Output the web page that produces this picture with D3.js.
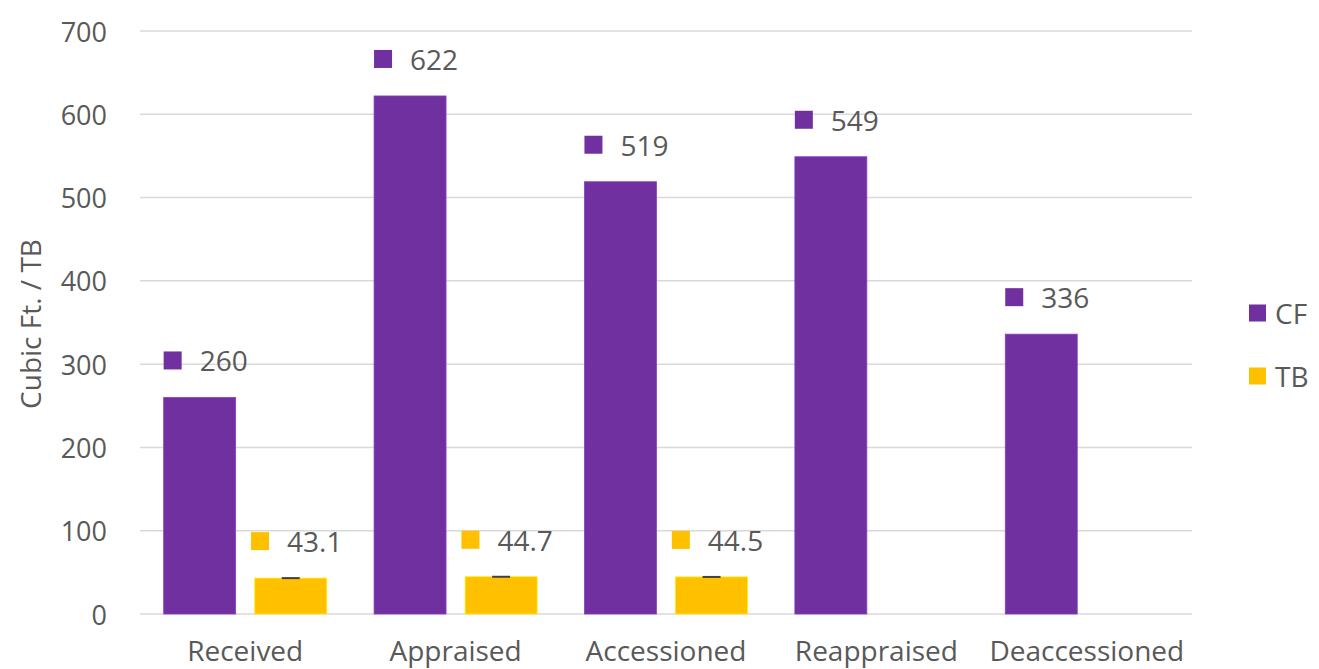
<!DOCTYPE html>
<html>
<head>
<meta charset="utf-8">
<script src="https://cdn.jsdelivr.net/npm/d3@7"></script>
<style>
    html, body { margin: 0; padding: 0; background: #fff; }
    svg { display: block; }
</style>
</head>
<body>
<div id="chart"></div>
<script>
// Volumes by processing stage
const categories = ["Received", "Appraised", "Accessioned", "Reappraised", "Deaccessioned"];
const seriesNames = ["CF", "TB"];
const cfValues = [260, 622, 519, 549, 336];
const tbValues = [43.1, 44.7, 44.5, null, null];
const yTicks = [0, 100, 200, 300, 400, 500, 600, 700];

const colors = { CF: "#7030A0", TB: "#FFC000" };
const textColor = "#595959";
const font = "'Open Sans', 'Noto Sans', sans-serif";

const W = 1319, H = 669;
const plot = { left: 140, right: 1192, top: 31, bottom: 614 };

const svg = d3.select("#chart")
    .append("svg")
    .attr("width", W)
    .attr("height", H)
    .style("font-family", font);

const x = d3.scaleBand()
    .domain(categories)
    .range([plot.left, plot.right])
    .padding(0);

const xs = d3.scaleBand()
    .domain(seriesNames)
    .range([0, x.bandwidth()])
    .paddingInner(0.21)
    .paddingOuter(0.26);

const y = d3.scaleLinear()
    .domain([0, 700])
    .range([plot.bottom, plot.top]);

// gridlines
svg.append("g")
    .selectAll("line")
    .data(yTicks)
    .join("line")
    .attr("x1", plot.left)
    .attr("x2", plot.right)
    .attr("y1", d => y(d))
    .attr("y2", d => y(d))
    .attr("stroke", "#D9D9D9")
    .attr("stroke-width", 1.5);

// y tick labels
svg.append("g")
    .selectAll("text")
    .data(yTicks)
    .join("text")
    .attr("x", 107)
    .attr("y", d => y(d))
    .attr("text-anchor", "end")
    .attr("dominant-baseline", "central")
    .attr("font-size", "27px")
    .attr("fill", textColor)
    .text(d => d);

// y axis title
svg.append("text")
    .attr("transform", "translate(41,324) rotate(-90)")
    .attr("text-anchor", "middle")
    .attr("font-size", "28px")
    .attr("fill", textColor)
    .text("Cubic Ft. / TB");

// category labels (bottom edge clips descenders, as in the source)
svg.append("g")
    .selectAll("text")
    .data(categories)
    .join("text")
    .attr("x", d => x(d) + x.bandwidth() / 2)
    .attr("y", 661)
    .attr("text-anchor", "middle")
    .attr("font-size", "28px")
    .attr("fill", textColor)
    .text(d => d);

const bars = [];
categories.forEach((c, i) => {
    if (cfValues[i] != null) bars.push({ cat: c, series: "CF", value: cfValues[i] });
    if (tbValues[i] != null) bars.push({ cat: c, series: "TB", value: tbValues[i] });
});

// bars
svg.append("g")
    .selectAll("rect")
    .data(bars)
    .join("rect")
    .attr("x", d => x(d.cat) + xs(d.series))
    .attr("width", xs.bandwidth())
    .attr("y", d => y(d.value))
    .attr("height", d => y(0) - y(d.value))
    .attr("fill", d => colors[d.series])
    .attr("stroke", d => d3.color(colors[d.series]).brighter(0.6))
    .attr("stroke-width", 0.8);

// zero-width error caps on TB bars
svg.append("g")
    .selectAll("line")
    .data(bars.filter(d => d.series === "TB"))
    .join("line")
    .attr("x1", d => x(d.cat) + xs(d.series) + xs.bandwidth() / 2 - 9)
    .attr("x2", d => x(d.cat) + xs(d.series) + xs.bandwidth() / 2 + 9)
    .attr("y1", d => y(d.value))
    .attr("y2", d => y(d.value))
    .attr("stroke", "#404040")
    .attr("stroke-width", 2);

// data labels with legend key
const sq = 18, gap = 18;
const labels = svg.append("g")
    .selectAll("g")
    .data(bars)
    .join("g");

labels.each(function(d) {
    const g = d3.select(this);
    const t = g.append("text")
        .attr("font-size", "28px")
        .attr("fill", textColor)
        .attr("dominant-baseline", "central")
        .text(d.value);
    const tw = t.node().getComputedTextLength();
    const total = sq + gap + tw;
    const cx = x(d.cat) + xs(d.series) + xs.bandwidth() / 2 + 6;
    const cy = y(d.value) - 37;
    const left = cx - total / 2;
    g.append("rect")
        .attr("x", left)
        .attr("y", cy - sq / 2)
        .attr("width", sq)
        .attr("height", sq)
        .attr("fill", colors[d.series]);
    t.attr("x", left + sq + gap).attr("y", cy);
});

// legend
const legend = svg.append("g")
    .selectAll("g")
    .data(seriesNames)
    .join("g")
    .attr("transform", (d, i) => `translate(1249,${313 + i * 63})`);

legend.append("rect")
    .attr("x", 0)
    .attr("y", -8.5)
    .attr("width", 17)
    .attr("height", 17)
    .attr("fill", d => colors[d]);

legend.append("text")
    .attr("x", 26)
    .attr("y", 0)
    .attr("dominant-baseline", "central")
    .attr("font-size", "28px")
    .attr("fill", textColor)
    .text(d => d);
</script>
</body>
</html>
